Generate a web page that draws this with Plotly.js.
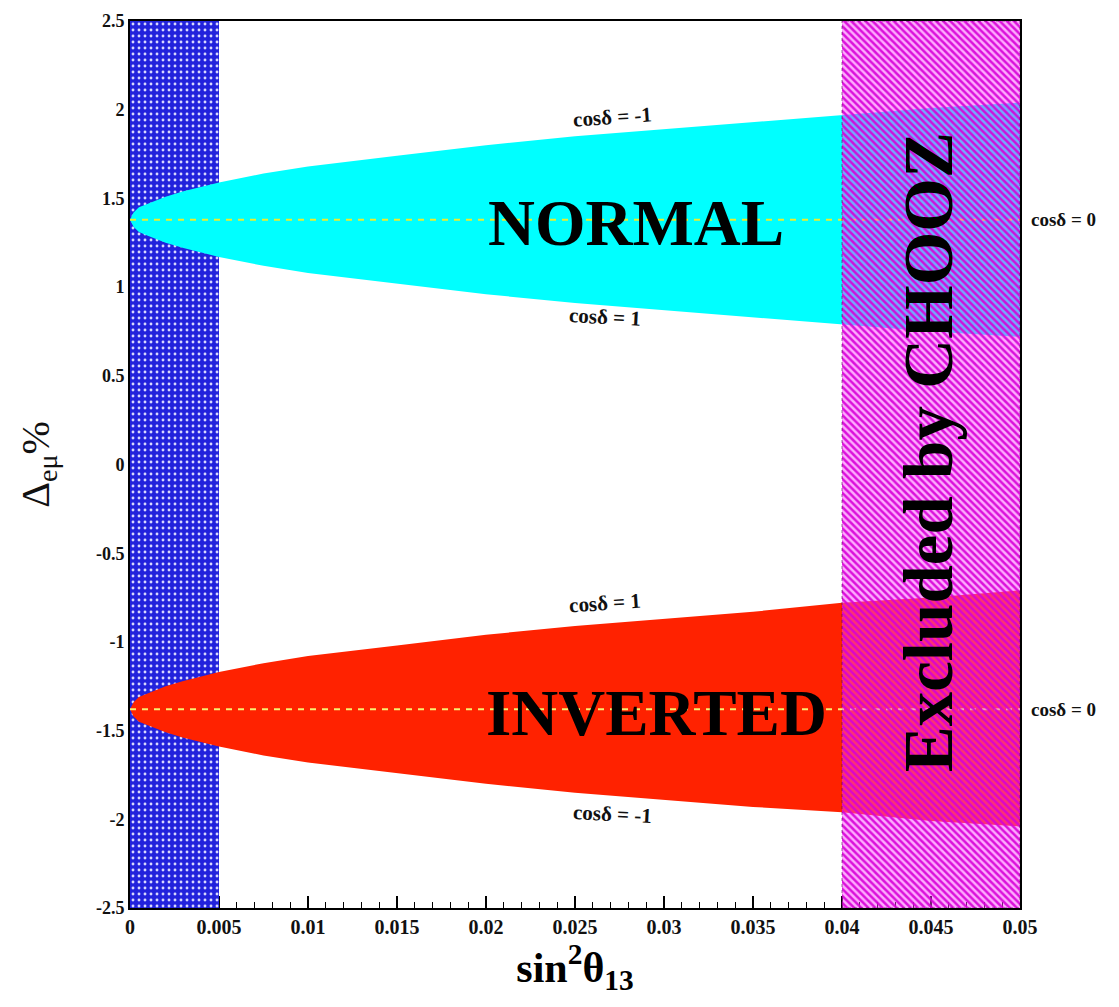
<!DOCTYPE html>
<html>
<head>
<meta charset="utf-8">
<script src="https://cdn.plot.ly/plotly-3.0.1.min.js"></script>
<style>html,body{margin:0;padding:0;background:#fff;}#chart{width:1119px;height:1007px;}</style>
</head>
<body>
<div id="chart"></div>
<script>
// ---- data ----
const sin2theta13 = [0, 0.0002, 0.0005, 0.001, 0.002, 0.003, 0.005, 0.0075, 0.01, 0.015, 0.02, 0.025, 0.03, 0.035, 0.04, 0.045, 0.05];
const normalCosMinus1 = [1.38, 1.42, 1.45, 1.47, 1.51, 1.54, 1.59, 1.64, 1.68, 1.74, 1.80, 1.85, 1.89, 1.93, 1.97, 2.01, 2.04];
const normalCosPlus1  = [1.38, 1.34, 1.31, 1.29, 1.25, 1.22, 1.17, 1.12, 1.08, 1.02, 0.96, 0.91, 0.87, 0.83, 0.79, 0.75, 0.72];
const invertedCosPlus1  = [-1.38, -1.34, -1.31, -1.29, -1.25, -1.22, -1.17, -1.12, -1.08, -1.02, -0.96, -0.91, -0.87, -0.83, -0.78, -0.75, -0.71];
const invertedCosMinus1 = [-1.38, -1.42, -1.45, -1.47, -1.51, -1.54, -1.59, -1.64, -1.68, -1.74, -1.80, -1.85, -1.89, -1.93, -1.96, -2.01, -2.04];
const normalCos0 = 1.38;
const invertedCos0 = -1.38;
const sensitivityBand = [0, 0.005];
const choozExcluded = [0.04, 0.05];
const deltaRange = [-2.5, 2.5];
const xTickVals = [0, 0.005, 0.01, 0.015, 0.02, 0.025, 0.03, 0.035, 0.04, 0.045, 0.05];
const xTickText = ["0", "0.005", "0.01", "0.015", "0.02", "0.025", "0.03", "0.035", "0.04", "0.045", "0.05"];
const yTickVals = [-2.5, -2, -1.5, -1, -0.5, 0, 0.5, 1, 1.5, 2, 2.5];
const yTickText = ["-2.5", "-2", "-1.5", "-1", "-0.5", "0", "0.5", "1", "1.5", "2", "2.5"];

// ---- helpers ----
function rect(xr, yr) {
  return { x: [xr[0], xr[1], xr[1], xr[0], xr[0]], y: [yr[0], yr[0], yr[1], yr[1], yr[0]] };
}
function band(xs, up, lo) {
  return { x: xs.concat(xs.slice().reverse()), y: up.concat(lo.slice().reverse()) };
}
const serif = "Liberation Serif, Times New Roman, serif";

const blueRect = rect(sensitivityBand, deltaRange);
const choozRect = rect(choozExcluded, deltaRange);
const normBand = band(sin2theta13, normalCosMinus1, normalCosPlus1);
const invBand = band(sin2theta13, invertedCosPlus1, invertedCosMinus1);
const xEnds = [sin2theta13[0], sin2theta13[sin2theta13.length - 1]];

const traces = [
  { type: 'scatter', mode: 'lines', x: blueRect.x, y: blueRect.y, fill: 'toself',
    fillcolor: '#2222dc', line: { width: 0 },
    fillpattern: { shape: '.', bgcolor: '#2222dc', fgcolor: '#d8d8ff', size: 6, solidity: 0.18 },
    hoverinfo: 'skip', showlegend: false },
  { type: 'scatter', mode: 'lines', x: normBand.x, y: normBand.y, fill: 'toself',
    fillcolor: '#00ffff', line: { width: 0 }, hoverinfo: 'skip', showlegend: false },
  { type: 'scatter', mode: 'lines', x: invBand.x, y: invBand.y, fill: 'toself',
    fillcolor: '#ff2200', line: { width: 0 }, hoverinfo: 'skip', showlegend: false },
  { type: 'scatter', mode: 'lines', x: xEnds, y: [normalCos0, normalCos0],
    line: { color: '#e8f030', width: 2, dash: '6px,6px' }, hoverinfo: 'skip', showlegend: false },
  { type: 'scatter', mode: 'lines', x: xEnds, y: [invertedCos0, invertedCos0],
    line: { color: '#f8f070', width: 2, dash: '6px,6px' }, hoverinfo: 'skip', showlegend: false },
  { type: 'scatter', mode: 'lines', x: choozRect.x, y: choozRect.y, fill: 'toself',
    fillcolor: 'rgba(255,60,255,0.45)', line: { width: 1, color: 'rgba(90,0,90,0.6)', dash: 'dot' },
    fillpattern: { shape: '\\', bgcolor: 'rgba(250,70,250,0.45)', fgcolor: 'rgba(215,0,215,0.9)', size: 5, solidity: 0.5 },
    hoverinfo: 'skip', showlegend: false }
];

const smallFont = { family: serif, size: 21, color: '#111' };
const bigFont = { family: serif, size: 65, color: '#000' };

const layout = {
  width: 1119, height: 1007,
  margin: { l: 130, r: 99, t: 21, b: 99 },
  paper_bgcolor: '#ffffff', plot_bgcolor: '#ffffff',
  showlegend: false,
  xaxis: {
    range: [0, 0.05], tickvals: xTickVals, ticktext: xTickText,
    showgrid: false, zeroline: false, showline: true, linecolor: '#000', linewidth: 2, mirror: true,
    ticks: 'inside', ticklen: 12, tickwidth: 1.5, tickcolor: '#000',
    minor: { dtick: 0.001, ticks: 'inside', ticklen: 6, tickwidth: 1.2, tickcolor: '#000', showgrid: false },
    tickfont: { family: serif, size: 20, color: '#111', weight: 'bold' },
    layer: 'below traces',
    title: { text: '<b>sin<sup>2</sup>θ<sub>13</sub></b>', font: { family: serif, size: 42, color: '#000' }, standoff: 0 }
  },
  yaxis: {
    range: [-2.5, 2.5], tickvals: yTickVals, ticktext: yTickText,
    showgrid: false, zeroline: false, showline: true, linecolor: '#000', linewidth: 2, mirror: true,
    ticks: '', tickfont: { family: serif, size: 18, color: '#111', weight: 'bold' },
    layer: 'below traces',
    title: { text: 'Δ<sub>eμ</sub>%', font: { family: serif, size: 40, color: '#111' }, standoff: 34 }
  },
  annotations: [
    { text: '<b>NORMAL</b>', x: 0.02843, y: 1.36, xref: 'x', yref: 'y', showarrow: false, font: bigFont },
    { text: '<b>INVERTED</b>', x: 0.0296, y: -1.40, xref: 'x', yref: 'y', showarrow: false, font: bigFont },
    { text: '<b>Excluded by CHOOZ</b>', x: 0.0449, y: 0.07, xref: 'x', yref: 'y', showarrow: false, textangle: -90,
      font: { family: serif, size: 69, color: '#000' } },
    { text: '<b>cosδ = -1</b>', x: 0.0271, y: 1.96, xref: 'x', yref: 'y', showarrow: false, textangle: -4, font: smallFont },
    { text: '<b>cosδ = 1</b>', x: 0.0267, y: 0.83, xref: 'x', yref: 'y', showarrow: false, textangle: 3, font: smallFont },
    { text: '<b>cosδ = 1</b>', x: 0.0267, y: -0.78, xref: 'x', yref: 'y', showarrow: false, textangle: -4, font: smallFont },
    { text: '<b>cosδ = -1</b>', x: 0.0271, y: -1.97, xref: 'x', yref: 'y', showarrow: false, textangle: 3, font: smallFont },
    { text: '<b>cosδ = 0</b>', x: 1.010, y: normalCos0, xref: 'paper', yref: 'y', xanchor: 'left', showarrow: false, font: { family: serif, size: 19, color: '#111' } },
    { text: '<b>cosδ = 0</b>', x: 1.010, y: invertedCos0, xref: 'paper', yref: 'y', xanchor: 'left', showarrow: false, font: { family: serif, size: 19, color: '#111' } }
  ]
};

Plotly.newPlot('chart', traces, layout, { displayModeBar: false, staticPlot: true });
</script>
</body>
</html>
